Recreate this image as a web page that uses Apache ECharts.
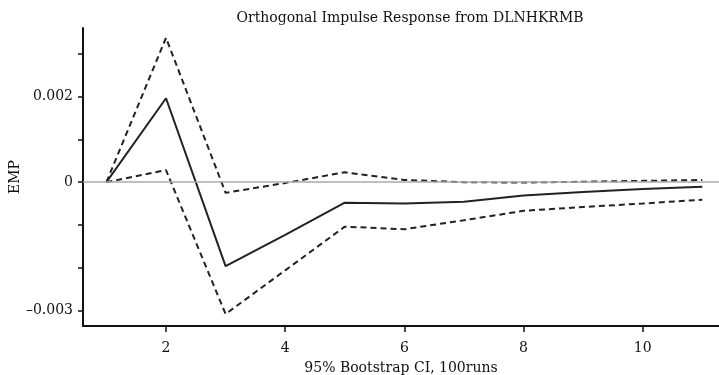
<!DOCTYPE html>
<html>
<head>
<meta charset="utf-8">
<script src="https://cdn.jsdelivr.net/npm/echarts@6/dist/echarts.min.js"></script>
<style>html,body{margin:0;padding:0;background:#fff}#c{width:719px;height:375px}</style>
</head>
<body>
<div id="c"></div>
<script>
var steps = [1, 2, 3, 4, 5, 6, 7, 8, 9, 10, 11];
var irf = [0, 0.00196, -0.00196, -0.00123, -0.00048, -0.0005, -0.00046, -0.00031, -0.00023, -0.00016, -0.00011];
var upperCI = [0, 0.00337, -0.00025, -0.00002, 0.00023, 0.00005, 0.0, -0.00001, 0.00001, 0.00003, 0.00005];
var lowerCI = [0, 0.00028, -0.00308, -0.00206, -0.00104, -0.0011, -0.00089, -0.00067, -0.00058, -0.0005, -0.00041];
var xTickLabels = [2, 4, 6, 8, 10];
var yTicks = [-0.003, -0.002, -0.001, 0, 0.001, 0.002, 0.003];
var yLabels = [-0.003, 0, 0.002];

function pairs(v) { return steps.map(function (s, i) { return [s, v[i]]; }); }
var font = '"DejaVu Serif", "Liberation Serif", serif';
var chart = echarts.init(document.getElementById('c'), null, { renderer: 'canvas' });
chart.setOption({
  animation: false,
  backgroundColor: '#fff',
  title: {
    text: 'Orthogonal Impulse Response from DLNHKRMB',
    left: 405, top: 6, textAlign: 'center',
    textStyle: { fontFamily: font, fontSize: 14, fontWeight: 'normal', color: '#111' }
  },
  grid: { left: 83, right: 0, top: 28, bottom: 49, containLabel: false, outerBoundsMode: 'none' },
  xAxis: {
    type: 'value', min: 0.607, max: 11.28,
    name: '95% Bootstrap CI, 100runs', nameLocation: 'middle', nameGap: 35, nameMoveOverlap: false,
    nameTextStyle: { fontFamily: font, fontSize: 14, color: '#111' },
    axisLine: { show: true, onZero: false, lineStyle: { color: '#111', width: 2 } },
    axisTick: { show: true, customValues: xTickLabels, length: 6, inside: false, lineStyle: { color: '#111', width: 1.5 } },
    axisLabel: { customValues: xTickLabels, fontFamily: font, fontSize: 14, color: '#111', margin: 15 },
    splitLine: { show: false }
  },
  yAxis: {
    type: 'value', min: -0.00336, max: 0.0036,
    name: 'EMP', nameLocation: 'middle', nameGap: 61, nameRotate: 90, nameMoveOverlap: false,
    nameTextStyle: { fontFamily: font, fontSize: 14, color: '#111' },
    axisLine: { show: true, onZero: false, lineStyle: { color: '#111', width: 2 } },
    axisTick: { show: true, customValues: yTicks, length: 5, lineStyle: { color: '#111', width: 1.5 } },
    axisLabel: {
      customValues: yLabels, fontFamily: font, fontSize: 14, color: '#111', margin: 10,
      formatter: function (v) { if (Math.abs(v) < 1e-12) return '0'; var s = Math.abs(v).toFixed(3); return v < 0 ? '\u2013' + s : s; }
    },
    splitLine: { show: false }
  },
  series: [
    {
      type: 'line', data: pairs(upperCI), showSymbol: false,
      lineStyle: { color: '#222', width: 2, type: [6, 4] },
      markLine: {
        silent: true, symbol: 'none', label: { show: false },
        lineStyle: { color: '#aaa', width: 1.5, type: 'solid' },
        data: [{ yAxis: 0 }]
      },
      z: 3
    },
    { type: 'line', data: pairs(irf), showSymbol: false, lineStyle: { color: '#222', width: 2, type: 'solid' }, z: 4 },
    { type: 'line', data: pairs(lowerCI), showSymbol: false, lineStyle: { color: '#222', width: 2, type: [6, 4] }, z: 3 }
  ]
});
</script>
</body>
</html>
